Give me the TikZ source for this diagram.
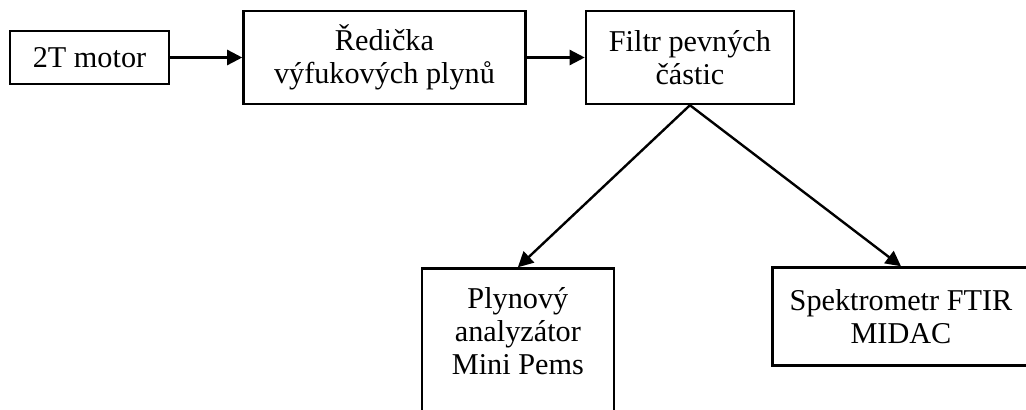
\documentclass[tikz,border=0pt]{standalone}
\usepackage{fontspec}
\setmainfont{Liberation Serif}
\usetikzlibrary{positioning,arrows.meta}

\begin{document}
\begin{tikzpicture}[x=0.025cm, y=-0.025cm,
  blok/.style={draw, line width=1.7pt, inner sep=0pt, align=center,
    font=\fontsize{21.5}{23.5}\selectfont},
  sipka/.style={-{Triangle[length=0.38cm,width=0.38cm]}, line width=1.7pt}]
\useasboundingbox (0,0) rectangle (1026,409);
\clip (0,0) rectangle (1026,409);
\node[blok, minimum width=3.975cm, minimum height=1.325cm] (motor) at (89.5,57.5) {2T motor};
\node[blok, minimum width=7.05cm, minimum height=2.325cm, right=1.8cm of motor] (redicka)
{Ředička\\výfukových plynů};
\node[blok, minimum width=5.2cm, minimum height=2.325cm, right=1.45cm of redicka] (filtr)
{Filtr pevných\\částic};
% the lower box runs past the bottom edge
\node[blok, minimum width=4.8cm, inner ysep=0.48cm, text depth=4cm, below=4.05cm of filtr.south, xshift=-4.3cm] (plyn)
{Plynový\\analyzátor\\Mini Pems};
\node[blok, minimum width=6.42cm, minimum height=2.45cm, below=4.025cm of filtr.south, xshift=5.275cm] (spekt)
{Spektrometr FTIR\\MIDAC};
\draw[sipka] (motor.east) -- (redicka.west);
\draw[sipka] (redicka) -- (filtr);
\draw[sipka] (filtr.south) -- (plyn.north);
\draw[sipka] (filtr.south) -- (spekt.north);
\end{tikzpicture}
\end{document}
